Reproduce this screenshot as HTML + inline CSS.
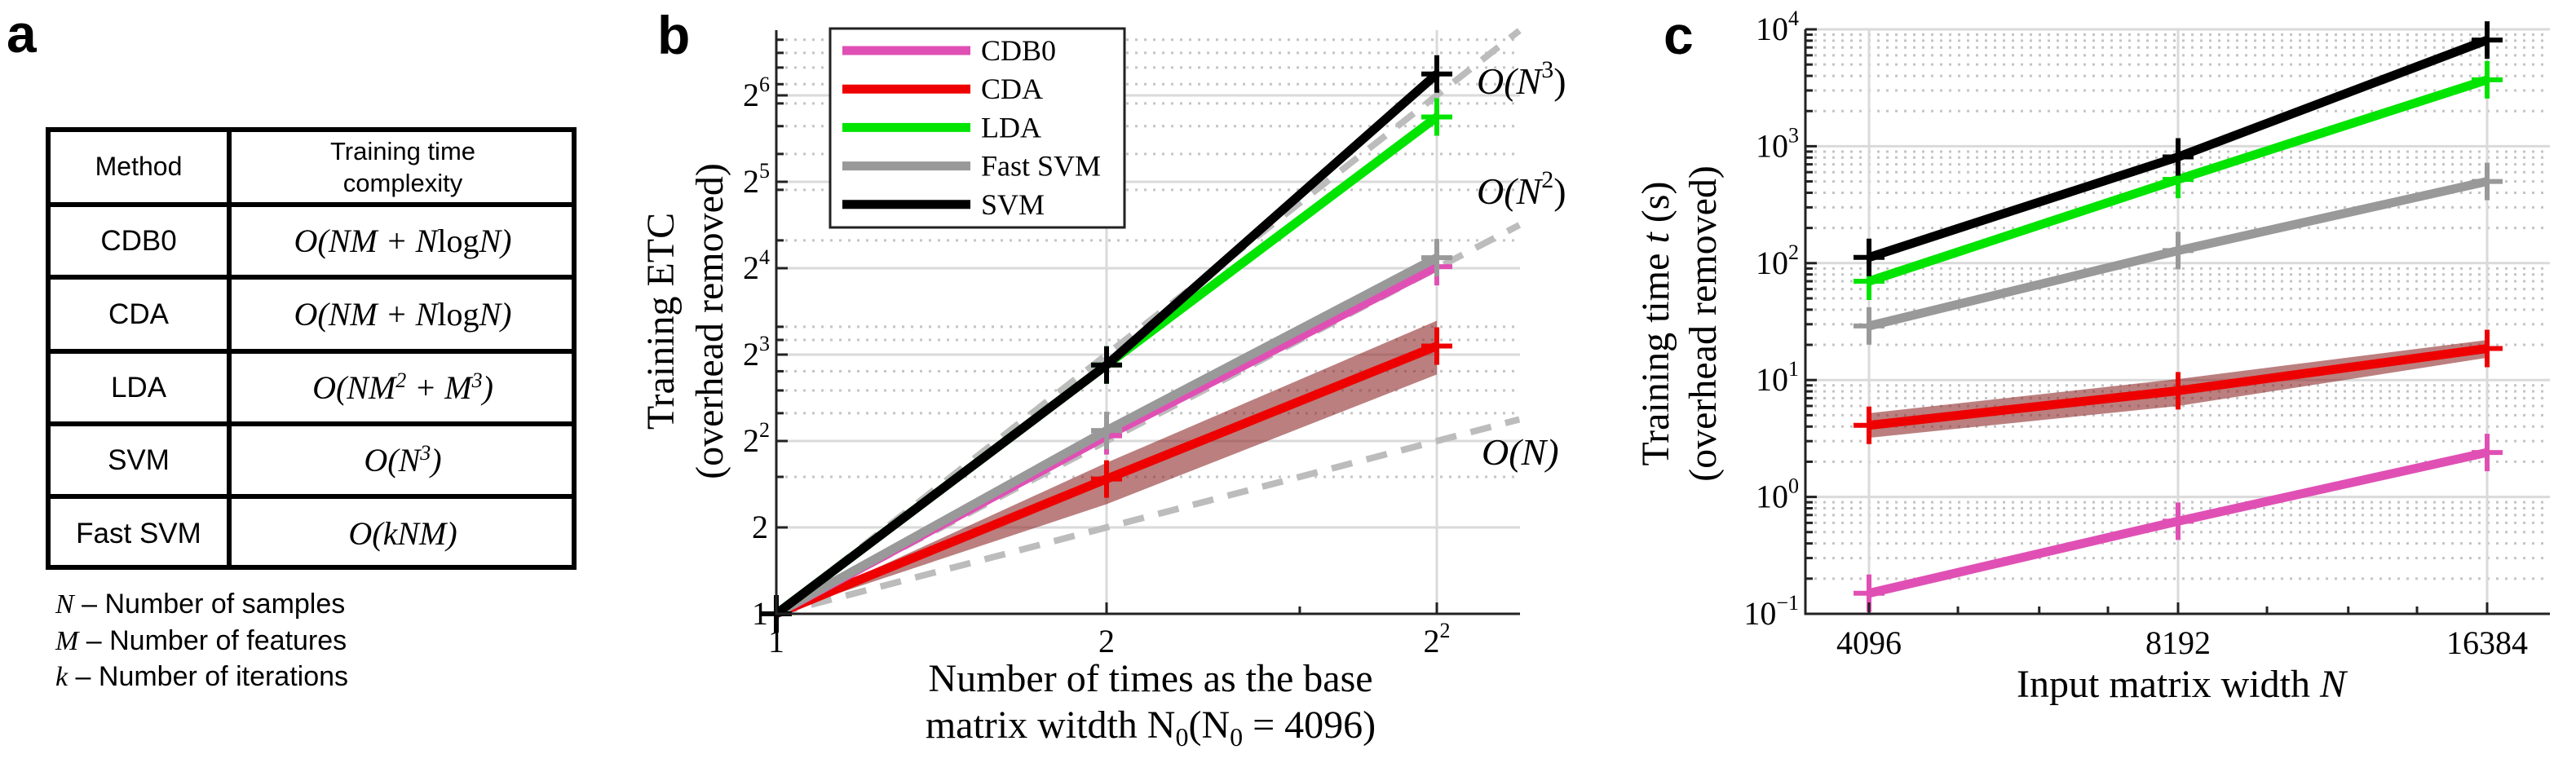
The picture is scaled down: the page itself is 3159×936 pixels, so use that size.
<!DOCTYPE html>
<html><head><meta charset="utf-8"><style>
html,body{margin:0;padding:0;background:#fff;}
svg{display:block;}
.sans{font-family:"Liberation Sans",Arial,sans-serif;}
.serif{font-family:"Liberation Serif","Times New Roman",serif;}
</style></head><body>
<svg id="fig" width="3159" height="936" viewBox="0 0 3159 936" xmlns="http://www.w3.org/2000/svg">
<g id="panelA">
<text x="8" y="64" class="sans" font-size="66" font-weight="bold">a</text>
<rect x="59" y="159" width="645" height="537" fill="none" stroke="#000" stroke-width="6"/>
<g stroke="#000" stroke-width="6">
<line x1="281" y1="159" x2="281" y2="696"/>
<line x1="59" y1="251" x2="704" y2="251"/>
<line x1="59" y1="340" x2="704" y2="340"/>
<line x1="59" y1="431" x2="704" y2="431"/>
<line x1="59" y1="520" x2="704" y2="520"/>
<line x1="59" y1="609" x2="704" y2="609"/>
</g>
<g class="sans" font-size="34" text-anchor="middle">
<text x="170" y="215" font-size="32">Method</text>
<text x="170" y="307" font-size="35">CDB0</text>
<text x="170" y="397" font-size="35">CDA</text>
<text x="170" y="487" font-size="35">LDA</text>
<text x="170" y="576" font-size="35">SVM</text>
<text x="170" y="666" font-size="35">Fast SVM</text>
</g>
<g text-anchor="middle">
<text x="494" y="196" class="sans" font-size="31">Training time</text>
<text x="494" y="235" class="sans" font-size="31">complexity</text>
<text x="494" y="309" class="serif" font-size="40" font-style="italic">O(NM + N<tspan font-style="normal">log</tspan>N)</text>
<text x="494" y="399" class="serif" font-size="40" font-style="italic">O(NM + N<tspan font-style="normal">log</tspan>N)</text>
<text x="494" y="489" class="serif" font-size="40" font-style="italic">O(NM<tspan dy="-14" font-size="26">2</tspan><tspan dy="14"> + M</tspan><tspan dy="-14" font-size="26">3</tspan><tspan dy="14">)</tspan></text>
<text x="494" y="578" class="serif" font-size="40" font-style="italic">O(N<tspan dy="-14" font-size="26">3</tspan><tspan dy="14">)</tspan></text>
<text x="494" y="668" class="serif" font-size="40" font-style="italic">O(kNM)</text>
</g>
<g font-size="34">
<text x="68" y="752" class="sans"><tspan class="serif" font-style="italic">N</tspan> – Number of samples</text>
<text x="68" y="797" class="sans"><tspan class="serif" font-style="italic">M</tspan> – Number of features</text>
<text x="68" y="841" class="sans"><tspan class="serif" font-style="italic">k</tspan> – Number of iterations</text>
</g>
</g>
<g id="panelB"></g>
<g id="panelC"></g>
</svg>
<script>
// ---------- Panel b data ----------
const bCategories = [1, 2, 4];
const bSVM = [1, 7.36, 76];
const bLDA = [1, 7.36, 53.8];
const bFastSVM = [1, 4.35, 17.4];
const bCDB0 = [1, 4.17, 16.2];
const bCDA = [1, 2.95, 8.57];
const bCDALow = [1, 2.41, 6.82];
const bCDAHigh = [1, 3.36, 10.5];
const bYTicks = [1, 2, 4, 8, 16, 32, 64];
const bYTickExp = ["", "", "2", "3", "4", "5", "6"];
const bXTicks = [1, 2, 4];
const bMinorY = [3, 5, 6, 7, 9, 10, 20, 30, 40, 50, 60, 70, 80, 90, 100];
const refOrders = [1, 2, 3];
const refLabels = ["O(N)", "O(N2)", "O(N3)"];

// ---------- Panel c data ----------
const cCategories = [4096, 8192, 16384];
const cSVM = [112, 810, 8100];
const cLDA = [70, 520, 3700];
const cFastSVM = [29, 128, 500];
const cCDA = [4.1, 8.1, 18.6];
const cCDALow = [3.2, 6.0, 15.5];
const cCDAHigh = [5.2, 10.2, 22];
const cCDB0 = [0.15, 0.62, 2.4];
const cYTickExp = [-1, 0, 1, 2, 3, 4];

const NS = "http://www.w3.org/2000/svg";
const COL = {CDB0:"#e050b4", CDA:"#ee0000", LDA:"#00e400", Fast:"#999999", SVM:"#000000"};
function mk(parent, tag, attrs, text) {
  const e = document.createElementNS(NS, tag);
  for (const k in attrs) e.setAttribute(k, attrs[k]);
  if (text !== undefined) e.textContent = text;
  parent.appendChild(e);
  return e;
}
const log2 = Math.log2, log10 = Math.log10;

// ---------- Panel b ----------
const B = document.getElementById('panelB');
const bL = 952, bR = 1864, bT = 37, bB = 753;
const xB = v => bL + log2(v) * 405;
const yB = v => bB - log2(v) * 106;
const bXMax = Math.pow(2, 2.25);

let t = mk(B, 'text', {x: 806, y: 66, class: 'sans', 'font-size': 66, 'font-weight': 'bold'}, 'b');



const bGrid = mk(B, 'g', {});


bMinorY.forEach(v => {
  const l = mk(bGrid, 'line', {x1: bL, x2: bR, y1: yB(v), y2: yB(v), stroke: '#c4c4c4', 'stroke-width': 3, 'stroke-dasharray': '3 8'});
  
  
  const tk = mk(bGrid, 'line', {x1: bL, x2: bL + 9, y1: yB(v), y2: yB(v), stroke: '#222', 'stroke-width': 3});
  
  
});
bYTicks.forEach(v => {
  if (v === 1) return;
  const l = mk(bGrid, 'line', {x1: bL, x2: bR, y1: yB(v), y2: yB(v), stroke: '#dadada', 'stroke-width': 3});
  
  
});
bXTicks.forEach(v => {
  if (v === 1) return;
  const l = mk(bGrid, 'line', {x1: xB(v), x2: xB(v), y1: bT, y2: bB, stroke: '#dadada', 'stroke-width': 3});
  
  
});

// reference complexity lines
refOrders.forEach((p, i) => {
  const xEnd = Math.min(bXMax, Math.pow(Math.pow(2, 6.75), 1 / p));
  const l = mk(B, 'line', {x1: xB(1), y1: yB(1), x2: xB(xEnd), y2: yB(Math.pow(xEnd, p)), stroke: '#bcbcbc', 'stroke-width': 8, 'stroke-dasharray': '26 18'});
  
  
});

// CDA band
{
  let pts = bCategories.map((c, i) => xB(c) + ',' + yB(bCDAHigh[i]));
  pts = pts.concat(bCategories.slice().reverse().map((c, j) => { const i = bCategories.length - 1 - j; return xB(c) + ',' + yB(bCDALow[i]); }));
  const p = mk(B, 'polygon', {points: pts.join(' '), fill: '#8e2a2a', 'fill-opacity': 0.6});
  
  
}
function series(parent, xs, ys, fx, fy, color, name) {
  const g = mk(parent, 'g', {});
  
  
  const pl = mk(g, 'polyline', {points: xs.map((x, i) => fx(x) + ',' + fy(ys[i])).join(' '), fill: 'none', stroke: color, 'stroke-width': 11, 'stroke-linejoin': 'round'});
  
  
  xs.forEach((x, i) => {
    const cx = fx(x), cy = fy(ys[i]);
    const m = mk(g, 'path', {d: `M${cx - 19},${cy}H${cx + 19}M${cx},${cy - 23}V${cy + 23}`, stroke: color, 'stroke-width': 6, fill: 'none'});
    
    
  });
}
series(B, bCategories, bCDA, xB, yB, COL.CDA, 'b-cda');
series(B, bCategories, bCDB0, xB, yB, COL.CDB0, 'b-cdb0');
series(B, bCategories, bFastSVM, xB, yB, COL.Fast, 'b-fast-svm');
series(B, bCategories, bLDA, xB, yB, COL.LDA, 'b-lda');
series(B, bCategories, bSVM, xB, yB, COL.SVM, 'b-svm');

// axes b
let ax = mk(B, 'path', {d: `M${bL},${bT}V${bB}H${bR}`, fill: 'none', stroke: '#222', 'stroke-width': 3});


bYTicks.forEach((v, i) => {
  const tk = mk(B, 'line', {x1: bL, x2: bL + 14, y1: yB(v), y2: yB(v), stroke: '#222', 'stroke-width': 3});
  
  
  const exp = bYTickExp[i];
  const lab = mk(B, 'text', {x: exp ? bL - 26 : bL - 10, y: yB(v) + 13, class: 'serif', 'font-size': 40, 'text-anchor': 'end'});
  lab.textContent = exp ? '2' : String(v);
  if (exp) { const s = mk(lab, 'tspan', {dy: -18, 'font-size': 26}, exp); }
  if (exp) lab.setAttribute('x', bL - 8);
  
  
});
bXTicks.forEach((v, i) => {
  const tk = mk(B, 'line', {x1: xB(v), x2: xB(v), y1: bB, y2: bB - 14, stroke: '#222', 'stroke-width': 3});
  
  
  const lab = mk(B, 'text', {x: xB(v), y: 800, class: 'serif', 'font-size': 40, 'text-anchor': 'middle'});
  if (v === 4) { lab.textContent = '2'; mk(lab, 'tspan', {dy: -18, 'font-size': 26}, '2'); }
  else lab.textContent = String(v);
  
  
});
{
  const tk = mk(B, 'line', {x1: xB(3), x2: xB(3), y1: bB, y2: bB - 9, stroke: '#222', 'stroke-width': 3});
  
  
}
// ref labels
[[1817, 570, 'O(N)', ''], [1811, 250, 'O(N', '2'], [1811, 115, 'O(N', '3']].forEach((r, i) => {
  const lab = mk(B, 'text', {x: r[0], y: r[1], class: 'serif', 'font-size': 46, 'font-style': 'italic'});
  lab.textContent = r[2];
  if (r[3]) { mk(lab, 'tspan', {dy: -20, 'font-size': 30, 'font-style': 'normal'}, r[3]); mk(lab, 'tspan', {dy: 20, 'font-style': 'normal'}, ')'); }
  
  
});
// axis titles b
t = mk(B, 'text', {x: 0, y: 0, class: 'serif', 'font-size': 48, 'text-anchor': 'middle', transform: 'translate(826,394) rotate(-90)'}, 'Training ETC');


t = mk(B, 'text', {x: 0, y: 0, class: 'serif', 'font-size': 48, 'text-anchor': 'middle', transform: 'translate(886,394) rotate(-90)'}, '(overhead removed)');


t = mk(B, 'text', {x: 1411, y: 848, class: 'serif', 'font-size': 48, 'text-anchor': 'middle'}, 'Number of times as the base');


t = mk(B, 'text', {x: 1411, y: 905, class: 'serif', 'font-size': 48, 'text-anchor': 'middle'}, 'matrix witdth N');
mk(t, 'tspan', {dy: 10, 'font-size': 32}, '0');
mk(t, 'tspan', {dy: -10}, '(N');
mk(t, 'tspan', {dy: 10, 'font-size': 32}, '0');
mk(t, 'tspan', {dy: -10}, ' = 4096)');



// legend
const leg = mk(B, 'g', {});


mk(leg, 'rect', {x: 1018, y: 35, width: 361, height: 244, fill: '#fff', stroke: '#222', 'stroke-width': 3});
const legNames = ['CDB0', 'CDA', 'LDA', 'Fast SVM', 'SVM'];
const legCols = [COL.CDB0, COL.CDA, COL.LDA, COL.Fast, COL.SVM];
legNames.forEach((n, i) => {
  const y = 62 + i * 47.2;
  const e = mk(leg, 'g', {});
  
  
  mk(e, 'line', {x1: 1033, x2: 1190, y1: y, y2: y, stroke: legCols[i], 'stroke-width': 11});
  mk(e, 'text', {x: 1203, y: y + 12, class: 'serif', 'font-size': 36}, n);
});

// ---------- Panel c ----------
const C = document.getElementById('panelC');
const cL = 2214, cR = 3127, cT = 36, cB = 753;
const xC = v => 2292 + log2(v / 4096) * 379;
const yC = v => cT + (4 - log10(v)) * 143.4;

t = mk(C, 'text', {x: 2040, y: 66, class: 'sans', 'font-size': 66, 'font-weight': 'bold'}, 'c');



const cGrid = mk(C, 'g', {});


for (let e = -1; e < 4; e++) {
  for (let m = 2; m <= 9; m++) {
    const v = m * Math.pow(10, e);
    const l = mk(cGrid, 'line', {x1: cL, x2: cR, y1: yC(v), y2: yC(v), stroke: '#c4c4c4', 'stroke-width': 3, 'stroke-dasharray': '3 8'});
    
    
    const tk = mk(cGrid, 'line', {x1: cL, x2: cL + 9, y1: yC(v), y2: yC(v), stroke: '#222', 'stroke-width': 3});
    
    
  }
}
cYTickExp.forEach(e => {
  const v = Math.pow(10, e);
  if (e > -1) {
    const l = mk(cGrid, 'line', {x1: cL, x2: cR, y1: yC(v), y2: yC(v), stroke: '#dadada', 'stroke-width': 3});
    
    
  }
});
cCategories.forEach(v => {
  const l = mk(cGrid, 'line', {x1: xC(v), x2: xC(v), y1: cT, y2: cB, stroke: '#dadada', 'stroke-width': 3});
  
  
});
{
  let pts = cCategories.map((c, i) => xC(c) + ',' + yC(cCDAHigh[i]));
  pts = pts.concat(cCategories.slice().reverse().map((c, j) => { const i = cCategories.length - 1 - j; return xC(c) + ',' + yC(cCDALow[i]); }));
  const p = mk(C, 'polygon', {points: pts.join(' '), fill: '#8e2a2a', 'fill-opacity': 0.6});
  
  
}
series(C, cCategories, cCDB0, xC, yC, COL.CDB0, 'c-cdb0');
series(C, cCategories, cCDA, xC, yC, COL.CDA, 'c-cda');
series(C, cCategories, cFastSVM, xC, yC, COL.Fast, 'c-fast-svm');
series(C, cCategories, cLDA, xC, yC, COL.LDA, 'c-lda');
series(C, cCategories, cSVM, xC, yC, COL.SVM, 'c-svm');

ax = mk(C, 'path', {d: `M${cL},${cT}V${cB}H${cR}`, fill: 'none', stroke: '#222', 'stroke-width': 3});


cYTickExp.forEach(e => {
  const v = Math.pow(10, e);
  const tk = mk(C, 'line', {x1: cL, x2: cL + 14, y1: yC(v), y2: yC(v), stroke: '#222', 'stroke-width': 3});
  
  
  const lab = mk(C, 'text', {x: cL - 8, y: yC(v) + 13, class: 'serif', 'font-size': 40, 'text-anchor': 'end'});
  lab.textContent = '10';
  mk(lab, 'tspan', {dy: -18, 'font-size': 26}, e < 0 ? '\u2212' + Math.abs(e) : String(e));
  
  
});
cCategories.forEach(v => {
  const tk = mk(C, 'line', {x1: xC(v), x2: xC(v), y1: cB, y2: cB - 14, stroke: '#222', 'stroke-width': 3});
  
  
  const lab = mk(C, 'text', {x: xC(v), y: 802, class: 'serif', 'font-size': 40, 'text-anchor': 'middle'}, String(v));
  
  
});
[5000, 6000, 7000, 10000, 12000, 14000].forEach(v => {
  const tk = mk(C, 'line', {x1: xC(v), x2: xC(v), y1: cB, y2: cB - 9, stroke: '#222', 'stroke-width': 3});
  
  
});
t = mk(C, 'text', {x: 0, y: 0, class: 'serif', 'font-size': 48, 'text-anchor': 'middle', transform: 'translate(2046,397) rotate(-90)'}, 'Training time ');
mk(t, 'tspan', {'font-style': 'italic'}, 't');
mk(t, 'tspan', {}, ' (s)');


t = mk(C, 'text', {x: 0, y: 0, class: 'serif', 'font-size': 48, 'text-anchor': 'middle', transform: 'translate(2104,397) rotate(-90)'}, '(overhead removed)');


t = mk(C, 'text', {x: 2675, y: 855, class: 'serif', 'font-size': 48, 'text-anchor': 'middle'}, 'Input matrix width ');
mk(t, 'tspan', {'font-style': 'italic'}, 'N');


</script>
</body></html>
